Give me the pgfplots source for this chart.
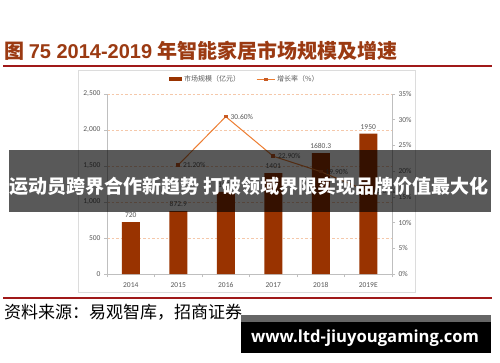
\documentclass[border=0pt]{standalone}
\usepackage{pgfplots}
\pgfplotsset{compat=1.18}
\usepackage{fontspec}
\setmainfont{Carlito}
\newfontfamily\cjk{Noto Sans CJK SC}
\newfontfamily\arialf{Liberation Sans}
\newfontfamily\wmfont{Open Sans}
\definecolor{barc}{RGB}{153,51,0}
\definecolor{linec}{RGB}{237,125,49}
\definecolor{markc}{RGB}{200,90,35}
\definecolor{gridc}{RGB}{245,200,170}
\definecolor{axc}{RGB}{191,191,191}
\definecolor{tickc}{RGB}{89,89,89}
\definecolor{titlec}{RGB}{155,58,18}
\definecolor{rulec}{RGB}{160,25,25}
\begin{document}
\begin{tikzpicture}[x=1pt,y=1pt]
\clip (0,0) rectangle (500,362);
\fill[white] (0,0) rectangle (500,362);
\draw[draw={rgb,255:red,220;green,220;blue,220}, line width=0.6pt] (78,70) rectangle (415,292);

\begin{axis}[
  at={(107pt,88pt)}, anchor=south west, scale only axis,
  width=285pt, height=180pt,
  xmin=-0.5, xmax=5.5, ymin=0, ymax=2500,
  ybar, bar width=18pt,
  ytick={0,500,...,2500},
  xtick={0,...,5},
  xticklabels={2014,2015,2016,2017,2018,2019E},
  minor xtick={-0.5,0.5,...,5.5},
  major x tick style={draw=none},
  minor x tick style={draw=axc, line width=0.6pt},
  y tick style={draw=axc, line width=0.6pt},
  tick align=outside, major tick length=3pt, minor tick length=3pt,
  axis x line*=bottom, axis y line*=left,
  axis line style={draw=axc, line width=0.6pt, -},
  ymajorgrids, grid style={draw=gridc, dash pattern=on 2.5pt off 2pt, line width=0.6pt},
  /pgf/number format/assume math mode=true,
  /pgf/number format/1000 sep={,},
  yticklabel style={font=\fontsize{7.5}{8}\selectfont, text=tickc},
  xticklabel style={font=\fontsize{7.5}{8}\selectfont, text=tickc, yshift=-2pt},
  legend style={at={(0.484,1.083)}, anchor=center, draw=none, fill=none,
    legend columns=2, font=\cjk\fontsize{7}{8}\selectfont, text=tickc,
    /tikz/every even column/.append style={column sep=14pt}},
  clip=false,
]
\addplot[fill=barc, draw=none,
  nodes near coords, point meta=explicit symbolic,
  every node near coord/.append style={font=\fontsize{7.5}{8}\selectfont, text=tickc, yshift=1pt},
  legend image code/.code={\fill[barc] (0pt,-2pt) rectangle (13pt,2pt);}]
  coordinates {(0,720)[720] (1,872.9)[872.9] (2,1140)[1140] (3,1401)[1401] (4,1680.3)[1680.3] (5,1950)[1950]};
\addlegendentry{市场规模（亿元）}
\addlegendimage{legend image code/.code={%
  \draw[linec, line width=1pt] (0pt,0pt) -- (18pt,0pt);
  \fill[markc] (7.7pt,-1.3pt) rectangle (10.3pt,1.3pt);}}
\addlegendentry{增长率（\%）}
\end{axis}

\begin{axis}[
  at={(107pt,88pt)}, anchor=south west, scale only axis,
  width=285pt, height=180pt,
  xmin=-0.5, xmax=5.5, ymin=0, ymax=35,
  ytick={0,5,...,35},
  yticklabel={\pgfmathprintnumber{\tick}\%},
  axis x line=none, axis y line*=right,
  axis line style={draw=axc, line width=0.6pt, -},
  y tick style={draw=axc, line width=0.6pt},
  tick align=outside, major tick length=3pt,
  /pgf/number format/assume math mode=true,
  yticklabel style={font=\fontsize{7.5}{8}\selectfont, text=tickc},
  clip=false,
]
\addplot[linec, line width=1pt, mark=square*, mark size=1.3pt, mark options={fill=markc, draw=markc},
  nodes near coords, point meta=explicit symbolic,
  every node near coord/.append style={anchor=west, xshift=1pt, yshift=0pt, font=\fontsize{7.5}{8}\selectfont, text=tickc}]
  coordinates {(1,21.2)[21.20\%] (2,30.6)[30.60\%] (3,22.9)[22.90\%] (4,19.9)[19.90\%] (5,16.07)[16.07\%]};
\end{axis}

% overlay banner
\fill[black, opacity=0.65] (9,150) rectangle (491,212);
\node[anchor=base, inner sep=0, text=white] at (249,168.5)
  {\cjk\bfseries\fontsize{19}{21}\selectfont 运动员跨界合作新趋势 打破领域界限实现品牌价值最大化};

% title
\node[anchor=base west, inner sep=0, text=titlec] at (4,303)
  {\fontsize{20}{22}\selectfont\cjk\bfseries 图 \arialf\bfseries 75 2014-2019 \cjk\bfseries 年智能家居市场规模及增速};
\draw[rulec, line width=1.3pt] (3,296) -- (492,296);
\draw[rulec, line width=1.3pt] (3,64) -- (492,64);

% source
\node[anchor=base west, inner sep=0, text=black] at (4,44)
  {\cjk\fontsize{17}{19}\selectfont 资料来源：易观智库，招商证券};

% watermark
\fill[black!60] (241,40) rectangle (491,47);
\fill[black] (241,9) rectangle (491,40);
\node[anchor=base, inner sep=0, text=white] at (365,20)
  {\resizebox{228pt}{!}{\wmfont\bfseries\fontsize{16}{18}\selectfont www.ltd-jiuyougaming.com}};
\end{tikzpicture}
\end{document}
